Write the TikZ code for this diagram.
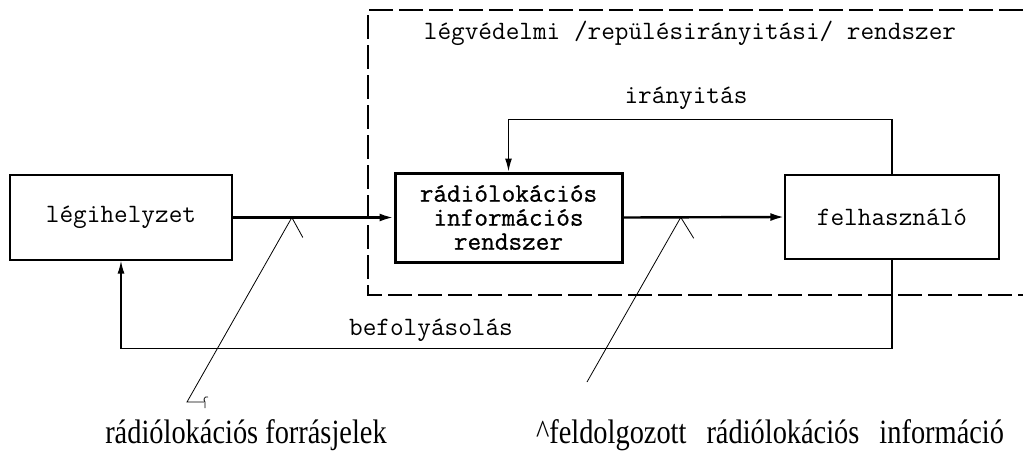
\documentclass[tikz,border=0pt]{standalone}
\usepackage{fontspec}
\newfontfamily\tms[FakeStretch=0.835]{Liberation Serif}
\newfontfamily\ttb[FakeBold=0.8]{Latin Modern Mono}
\usetikzlibrary{arrows.meta}
\begin{document}
\begin{tikzpicture}[x=1pt,y=-1pt,
 box/.style={draw, line width=1.3pt, inner sep=0pt, font=\fontsize{26.5}{24}\selectfont\ttfamily},
 flow/.style={line width=2.4pt, -{Latex[length=14pt,width=8pt]}},
 fb/.style={line width=1.4pt, -{Latex[length=13pt,width=7pt]}},
 thinline/.style={line width=0.8pt},
 tt/.style={font=\fontsize{26.5}{28}\selectfont\ttfamily, inner sep=0pt},
 lbl/.style={font=\fontsize{34}{38}\selectfont\tms, inner sep=0pt, anchor=base},
 sys/.style={line width=1.1pt, dash pattern=on 24pt off 6pt}]
\useasboundingbox (0,0) rectangle (1023,450);

% system boundary
\draw[sys] (1023,10) -- (368,10) -- (368,295) -- (1023,295);

\node[box, minimum width=222pt, minimum height=85pt] (lh) at (121,217.5) {légihelyzet};
\node[box, line width=3pt, minimum width=227pt, minimum height=89pt, align=center, font=\fontsize{26.5}{24}\selectfont\ttb] (ris) at (508.5,217.5) {rádiólokációs\\információs\\rendszer};
\node[box, minimum width=214pt, minimum height=84pt] (fh) at (892,217) {felhasználó};

\draw[flow] (lh.east) -- (ris.west);
\draw[flow] (ris.east) -- (fh.west);

\draw[fb] (fh.north) -- ++(0,-55) -| (ris.north);
\draw[fb] (fh.south) -- ++(0,89) -| (lh.south);

% pointer marks
\path (lh.east) -- (ris.west) coordinate[pos=0.368] (t1);
\path (ris.east) -- (fh.west) coordinate[pos=0.356] (t2);
\coordinate (e1) at (187,402);
\coordinate (e2) at (587,382);
\draw[thinline] (t1) -- ++(11,20);
\draw[thinline] (t1) -- (e1) -- ++(17,0);
\draw[thinline] (208,397) .. controls (204,396) and (203,400) .. (205,402) -- (205,408);
\draw[thinline] (t2) -- ++(13,21);
\draw[thinline] (t2) -- (e2);

\node[tt] (title) at (690,33) {légvédelmi /repülésirányitási/ rendszer};
\node[tt] (ir) at (686,98) {irányitás};
\node[tt] (bef) at (431,330) {befolyásolás};
\node[lbl] (l1) at (246,443) {rádiólokációs forrásjelek};
\node[lbl] (l2) at (770,443) {\textasciicircum feldolgozott\hspace{20pt}rádiólokációs\hspace{20pt}információ};
\end{tikzpicture}
\end{document}
